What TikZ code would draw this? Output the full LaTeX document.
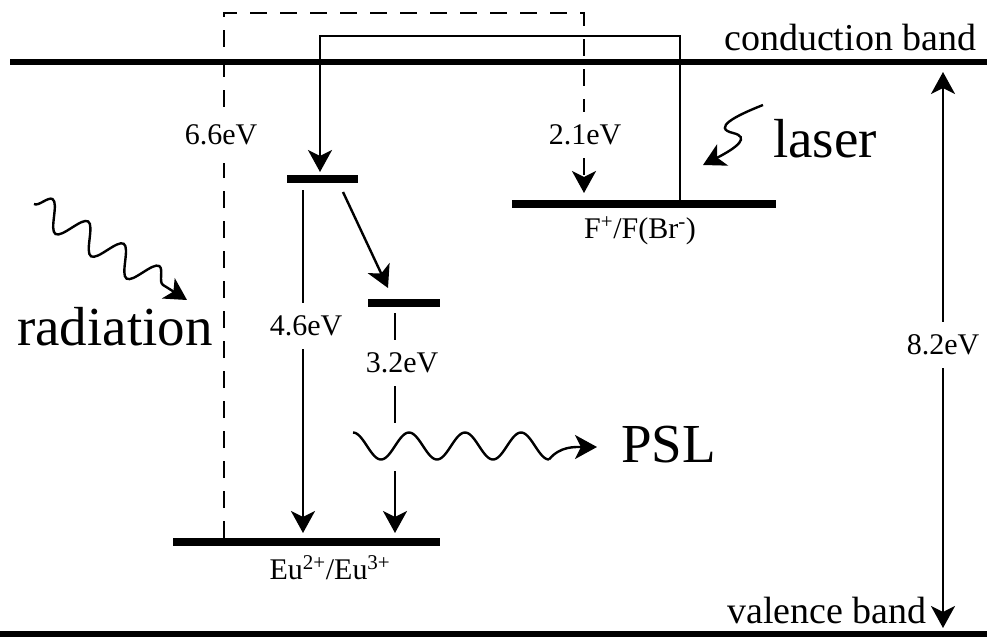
\documentclass[tikz,border=0pt]{standalone}
\usepackage{fontspec}
\setmainfont{Liberation Serif}
\usetikzlibrary{arrows.meta,decorations.pathmorphing}
\newcommand\evfont{\fontsize{30}{36}\selectfont}
\newcommand\bandfont{\fontsize{38}{44}\selectfont}
\newcommand\bigtxt{\fontsize{55}{62}\selectfont}
\tikzset{
  wire/.style={line width=2.4pt},
  band/.style={line width=6.5pt},
  level/.style={fill=black, inner sep=0pt, minimum height=8pt},
  arr/.style={-{Stealth[length=22pt,width=24pt,inset=6pt]}},
  dline/.style={wire, dash pattern=on 17pt off 13pt},
  evl/.style={font=\evfont, inner xsep=0pt, inner ysep=13pt},
  txt/.style={inner sep=0pt},
}
\begin{document}
\begin{tikzpicture}[x=1pt,y=-1pt]
\useasboundingbox (0,0) rectangle (987,637);
% bands
\coordinate (cbL) at (10,62);
\coordinate (cbR) at (987,62);
\coordinate (vbL) at (0,634);
\coordinate (vbR) at (987,634);
\draw[band] (cbL) -- (cbR);
\draw[band] (vbL) -- (vbR);
\node[txt, anchor=base west, font=\bandfont] (cb) at (724,50) {conduction band};
\node[txt, anchor=base west, font=\bandfont] (vb) at (727,623) {valence band};
% levels
\node[level, minimum width=71pt] (up) at (322,179) {};
\node[level, minimum width=72pt] (mid) at (404,303) {};
\node[level, minimum width=267pt] (eu) at (306.5,541.5) {};
\node[level, minimum width=264pt] (fc) at (644,204) {};
\node[txt, anchor=base, font=\evfont] (eul) at (330,579) {Eu\textsuperscript{2+}/Eu\textsuperscript{3+}};
\node[txt, anchor=base, font=\evfont] (fl) at (640,238) {F\textsuperscript{+}/F(Br\textsuperscript{-})};
% energy labels
\node[evl, inner ysep=18pt] (l66) at (221,135) {6.6eV};
\node[evl] (l21) at (585,135) {2.1eV};
\node[evl] (l46) at (306,326) {4.6eV};
\node[evl] (l32) at (402,363) {3.2eV};
\node[evl] (l82) at (943,345) {8.2eV};
% dashed path 6.6 eV / 2.1 eV
\coordinate (d0) at (224,538);
\coordinate (d1) at (224,13);
\coordinate (d2) at (584,13);
\coordinate (d3) at (584,193);
\draw[dline] (d0) -- (d0 |- l66.south);
\draw[dline] (d0 |- l66.north) -- (d1) -- (d2) -- (d2 |- l21.north);
\draw[dline, arr] (d2 |- l21.south) -- (d3);
% solid path from F centre to upper Eu level
\coordinate (s1) at (680,200);
\coordinate (s2) at (680,36);
\coordinate (s3) at (320,36);
\coordinate (s4) at (320,172);
\draw[wire, arr] (s1) -- (s2) -- (s3) -- (s4);
% 4.6 eV transition
\coordinate (a46s) at (303,190);
\coordinate (a46e) at (303,533);
\draw[wire] (a46s) -- (a46s |- l46.north);
\draw[wire, arr] (a46s |- l46.south) -- (a46e);
% relaxation
\coordinate (dgs) at (343,192);
\coordinate (dge) at (388,288);
\draw[wire, arr] (dgs) -- (dge);
% 3.2 eV transition
\coordinate (a32s) at (395,313);
\coordinate (w1) at (395,423);
\coordinate (w2) at (395,471);
\coordinate (a32e) at (395,533);
\draw[wire] (a32s) -- (a32s |- l32.north);
\draw[wire] (a32s |- l32.south) -- (w1);
\draw[wire, arr] (w2) -- (a32e);
% 8.2 eV gap
\coordinate (g1) at (943,72);
\coordinate (g2) at (943,628);
\draw[wire, arr] (l82.north) -- (g1);
\draw[wire, arr] (l82.south) -- (g2);
% PSL wave
\coordinate (pw) at (549,459.5);
\coordinate (pt) at (597,447);
\draw[wire] plot[domain=0:3.5, samples=120, smooth] ({353+\x*56}, {446-13.5*cos(360*\x)});
\draw[wire, arr] (pw) .. controls (560,446) and (575,447) .. (pt);
\node[txt, anchor=west, font=\bigtxt] (psl) at (621,445) {PSL};
% radiation
\coordinate (rs) at (34,204);
\coordinate (re) at (187,300);
\draw[wire, arr, decorate, decoration={snake, amplitude=14pt, segment length=42pt, post length=20pt}] (rs) -- (re);
\node[txt, anchor=base west, font=\bigtxt] (rad) at (17,345) {radiation};
% laser
\coordinate (ls) at (763,105);
\coordinate (lt) at (703,165);
\draw[wire, arr] (ls) .. controls (735,116) and (712,128) .. (733,133) .. controls (750,137) and (738,147) .. (lt);
\node[txt, anchor=base west, font=\bigtxt] (las) at (773,157) {laser};
\end{tikzpicture}
\end{document}
